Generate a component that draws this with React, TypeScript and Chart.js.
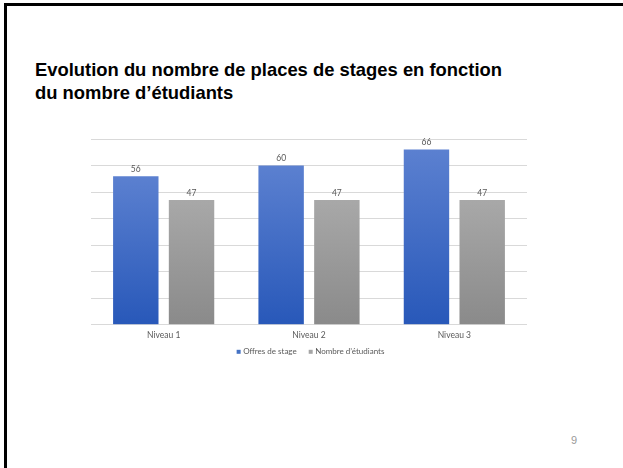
import React, { useEffect, useRef } from "react";
import { Chart, registerables } from "chart.js";

Chart.register(...registerables);

const categories = ["Niveau 1", "Niveau 2", "Niveau 3"];
const offres = [56, 60, 66];
const etudiants = [47, 47, 47];
const seriesNames = ["Offres de stage", "Nombre d\u2019étudiants"];
const seriesColors = ["#4472c4", "#a5a5a5"];
const yMax = 70;
const yStep = 10;

const FONT = "Lato, 'Open Sans', sans-serif";

function makeGradient(ctx: any, top: string, bottom: string, fallback: string) {
  const chart = ctx.chart;
  if (!chart.chartArea || ctx.type !== "data") return fallback;
  const ys = chart.scales.y;
  const yTop = ys.getPixelForValue(ctx.raw);
  const yBot = ys.getPixelForValue(0);
  const g = chart.ctx.createLinearGradient(0, yTop, 0, yBot);
  g.addColorStop(0, top);
  g.addColorStop(1, bottom);
  return g;
}

const valueLabels = {
  id: "valueLabels",
  afterDatasetsDraw(chart: any) {
    const c = chart.ctx;
    c.save();
    c.font = `8.5px ${FONT}`;
    c.fillStyle = "#595959";
    c.textAlign = "center";
    c.textBaseline = "bottom";
    chart.data.datasets.forEach((ds: any, i: number) => {
      const meta = chart.getDatasetMeta(i);
      meta.data.forEach((bar: any, j: number) => {
        c.fillText(String(ds.data[j]), bar.x, bar.y - 3);
      });
    });
    c.restore();
  },
};

const bottomLegend = {
  id: "bottomLegend",
  afterDraw(chart: any) {
    const c = chart.ctx;
    const area = chart.chartArea;
    const box = 4;
    const boxGap = 2.5;
    const itemGap = 12;
    c.save();
    c.font = `8px ${FONT}`;
    c.textBaseline = "middle";
    c.textAlign = "left";
    const items = chart.data.datasets.map((ds: any, i: number) => ({
      text: ds.label,
      color: seriesColors[i],
      w: box + boxGap + c.measureText(ds.label).width,
    }));
    const total = items.reduce((s: number, it: any) => s + it.w, 0) + itemGap * (items.length - 1);
    let x = (area.left + area.right) / 2 - total / 2 + 1.5;
    const y = area.bottom + 27;
    items.forEach((it: any) => {
      c.fillStyle = it.color;
      c.fillRect(x, y - box / 2, box, box);
      c.fillStyle = "#595959";
      c.fillText(it.text, x + box + boxGap, y);
      x += it.w + itemGap;
    });
    c.restore();
  },
};

function BarChart() {
  const ref = useRef<HTMLCanvasElement | null>(null);
  useEffect(() => {
    if (!ref.current) return;
    const chart = new Chart(ref.current, {
      type: "bar",
      data: {
        labels: categories,
        datasets: [
          {
            label: seriesNames[0],
            data: offres,
            backgroundColor: (ctx: any) => makeGradient(ctx, "#5b80d0", "#2858b9", seriesColors[0]),
            categoryPercentage: 0.767,
            barPercentage: 0.815,
          },
          {
            label: seriesNames[1],
            data: etudiants,
            backgroundColor: (ctx: any) => makeGradient(ctx, "#a8a8a8", "#8a8a8a", seriesColors[1]),
            categoryPercentage: 0.767,
            barPercentage: 0.815,
          },
        ],
      },
      options: {
        responsive: false,
        animation: false,
        devicePixelRatio: 1,
        layout: { padding: { left: 91, right: 96, top: 14, bottom: 21 } },
        scales: {
          x: {
            grid: { display: false, drawTicks: false },
            border: { display: false },
            ticks: { color: "#595959", font: { family: FONT, size: 8.5 }, padding: 5 },
          },
          y: {
            min: 0,
            max: yMax,
            ticks: { display: false, stepSize: yStep },
            grid: { color: "#d9d9d9", drawTicks: false, lineWidth: 1 },
            border: { display: false },
          },
        },
        plugins: {
          legend: { display: false },
          tooltip: { enabled: false },
        },
      },
      plugins: [valueLabels, bottomLegend],
    } as any);
    return () => chart.destroy();
  }, []);
  return <canvas ref={ref} width={623} height={241} style={{ position: "absolute", left: 0, top: 125, width: 623, height: 241 }} />;
}

export default function App() {
  return (
    <div style={{ position: "fixed", left: 0, top: 0, width: 623, height: 468, background: "#fff", overflow: "hidden" }}>
      <div style={{ position: "absolute", left: 4, top: 3, width: 2.5, height: 468, background: "#000" }} />
      <div style={{ position: "absolute", left: 4, top: 3, width: 619, height: 2.5, background: "#000" }} />
      <div
        style={{
          position: "absolute",
          left: 35,
          top: 58,
          width: 560,
          fontFamily: "'Liberation Sans', Arial, sans-serif",
          fontWeight: "bold",
          fontSize: 18.4,
          lineHeight: "23px",
          color: "#000",
        }}
      >
        Evolution du nombre de places de stages en fonction
        <br />
        du nombre d’étudiants
      </div>
      <BarChart />
      <div
        style={{
          position: "absolute",
          left: 571,
          top: 434,
          fontFamily: "'Liberation Sans', Arial, sans-serif",
          fontSize: 11,
          color: "#9a9a9a",
        }}
      >
        9
      </div>
    </div>
  );
}
